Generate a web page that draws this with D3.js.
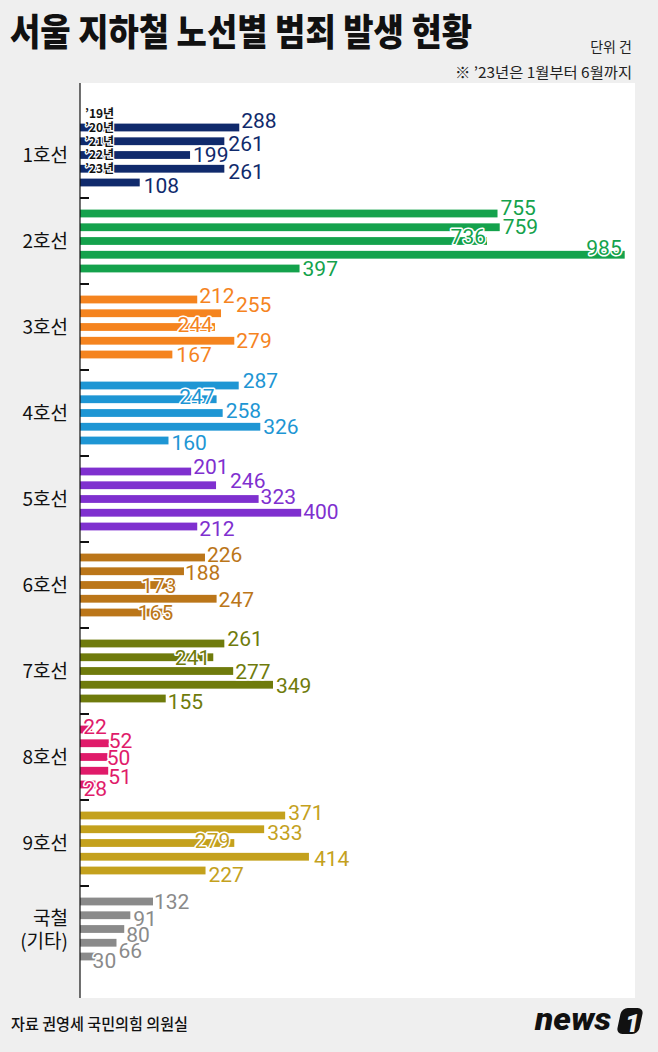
<!DOCTYPE html>
<html>
<head>
<meta charset="utf-8">
<script src="https://cdn.jsdelivr.net/npm/d3@7"></script>
<style>
  body { margin: 0; background: #efefef; }
  svg { display: block; }
</style>
</head>
<body>
<svg id="chart" width="658" height="1052"></svg>
<script>
// ---------- DATA ----------
const categories = ["1호선", "2호선", "3호선", "4호선", "5호선", "6호선", "7호선", "8호선", "9호선", "국철 (기타)"];
const years = ["’19년", "’20년", "’21년", "’22년", "’23년"];
const line1 = [288, 261, 199, 261, 108];
const line2 = [755, 759, 736, 985, 397];
const line3 = [212, 255, 244, 279, 167];
const line4 = [287, 247, 258, 326, 160];
const line5 = [201, 246, 323, 400, 212];
const line6 = [226, 188, 173, 247, 165];
const line7 = [261, 241, 277, 349, 155];
const line8 = [22, 52, 50, 51, 28];
const line9 = [371, 333, 279, 414, 227];
const korail = [132, 91, 80, 66, 30];
const seriesByLine = [line1, line2, line3, line4, line5, line6, line7, line8, line9, korail];

// ---------- STYLE / LAYOUT ----------
const lineColors = ["#102a6c", "#14a24c", "#f5841f", "#1e96d4", "#7f30cf", "#bb7619", "#6f7b0c", "#e01b6a", "#c4a11d", "#8a8a8a"];
// value-label nudges [dx, dy, insideBar] relative to bar end / bar centre
const labelNudge = [
  [[2,-7,0],[4,2,0],[3,-1,0],[4,3,0],[4,3,0]],
  [[3,-6,0],[3,-1,0],[-1,-5,1],[-3,-7,1],[3,0,0]],
  [[2,-4,0],[15,-9,0],[-2,-3,1],[2,0,0],[4,0,0]],
  [[4,-5,0],[-2,-3,1],[3,-3,0],[3,0,0],[3,2,0]],
  [[2,-5,0],[14,-5,0],[2,-3,0],[2,-1,0],[2,2,0]],
  [[2,-3,0],[1,1,0],[1,0,1],[2,1,0],[2,0,1]],
  [[3,-5,0],[-3,0,1],[2,0,0],[3,1,0],[2,3,0]],
  [[-9,-3,0],[0,-3,0],[-1,0,0],[0,6,0],[-12,4,0]],
  [[3,-3,0],[3,3,0],[-4,-3,1],[5,2,0],[3,4,0]],
  [[1,0,0],[3,3,0],[2,5,0],[2,8,0],[-4,4,0]]
];

const W = 658, H = 1052;
const svg = d3.select("#chart");
svg.append("rect").attr("width", W).attr("height", H).attr("fill", "#efefef");

// plot panel
const panel = { left: 80, right: 635, top: 83, bottom: 998 };
svg.append("rect")
  .attr("x", panel.left).attr("y", panel.top)
  .attr("width", panel.right - panel.left).attr("height", panel.bottom - panel.top)
  .attr("fill", "#ffffff");

// scales
const x = d3.scaleLinear().domain([0, 1000]).range([80, 633]);
const y = d3.scaleBand().domain(categories).range([112, 972]).padding(0);
const yi = d3.scaleBand().domain(years).range([11.6, 74.4]).paddingInner(0.433).paddingOuter(0);

// title & notes
svg.append("text")
  .attr("x", 10).attr("y", 46)
  .attr("font-family", "'Noto Sans CJK KR', sans-serif")
  .attr("font-weight", 900).attr("font-size", 37)
  .attr("textLength", 462).attr("lengthAdjust", "spacingAndGlyphs")
  .attr("fill", "#111")
  .text("서울 지하철 노선별 범죄 발생 현황");

svg.append("text")
  .attr("x", 632).attr("y", 52).attr("text-anchor", "end")
  .attr("font-family", "'Noto Sans CJK KR', sans-serif")
  .attr("font-size", 14).attr("fill", "#222")
  .text("단위 건");

svg.append("text")
  .attr("x", 632).attr("y", 78).attr("text-anchor", "end")
  .attr("font-family", "'Noto Sans CJK KR', sans-serif")
  .attr("font-size", 15).attr("fill", "#222")
  .attr("textLength", 177).attr("lengthAdjust", "spacingAndGlyphs")
  .text("※ ’23년은 1월부터 6월까지");

// bars
const groups = svg.append("g").selectAll("g.line")
  .data(categories.map((c, gi) => ({ cat: c, gi, vals: seriesByLine[gi] })))
  .join("g").attr("class", "line")
  .attr("transform", d => `translate(0,${y(d.cat)})`);

groups.selectAll("rect")
  .data(d => d.vals.map((v, i) => ({ v, i, year: years[i], gi: d.gi })))
  .join("rect")
  .attr("x", x(0))
  .attr("y", d => yi(d.year))
  .attr("width", d => x(d.v) - x(0))
  .attr("height", yi.bandwidth())
  .attr("fill", d => lineColors[d.gi]);

// axis line and group separator ticks
svg.append("line")
  .attr("x1", 80).attr("x2", 80)
  .attr("y1", panel.top).attr("y2", panel.bottom)
  .attr("stroke", "#111").attr("stroke-width", 1.2);

svg.append("g").selectAll("line")
  .data(categories.slice(1))
  .join("line")
  .attr("x1", 80).attr("x2", 89)
  .attr("y1", d => y(d)).attr("y2", d => y(d))
  .attr("stroke", "#111").attr("stroke-width", 2);

// category labels
svg.append("g").selectAll("text")
  .data(categories)
  .join("text")
  .attr("x", 68)
  .attr("text-anchor", "end")
  .attr("font-family", "'Noto Sans CJK KR', sans-serif")
  .attr("font-weight", 400)
  .attr("font-size", 19)
  .attr("fill", "#111")
  .each(function (d) {
    const parts = d.split(" ");
    const cy = y(d) + y.bandwidth() / 2;
    const t = d3.select(this);
    const lh = 23;
    parts.forEach((p, k) => {
      t.append("tspan")
        .attr("x", 68)
        .attr("y", cy + (k - (parts.length - 1) / 2) * lh + 7)
        .text(p);
    });
  });

// value labels
groups.selectAll("text.val")
  .data(d => d.vals.map((v, i) => ({ v, i, year: years[i], gi: d.gi })))
  .join("text")
  .attr("class", "val")
  .attr("font-family", "Roboto, 'Liberation Sans', sans-serif")
  .attr("font-size", 21)
  .attr("fill", d => lineColors[d.gi])
  .attr("stroke", "#fff").attr("stroke-width", 3)
  .attr("stroke-linejoin", "round").attr("paint-order", "stroke")
  .attr("text-anchor", d => labelNudge[d.gi][d.i][2] ? "end" : "start")
  .attr("x", d => x(d.v) + labelNudge[d.gi][d.i][0])
  .attr("y", d => yi(d.year) + yi.bandwidth() / 2 + labelNudge[d.gi][d.i][1] + 7.5)
  .text(d => d.v);

// year labels (first line only)
const yearG = svg.append("g").attr("transform", `translate(0,${y(categories[0])})`);
yearG.selectAll("text")
  .data(years)
  .join("text")
  .attr("x", 85)
  .attr("y", d => yi(d) + yi.bandwidth() / 2 - 14 + 4.5)
  .attr("font-family", "'Noto Sans CJK KR', sans-serif")
  .attr("font-weight", 700).attr("font-size", 12)
  .attr("fill", "#111")
  .attr("stroke", "#fff").attr("stroke-width", 2.5)
  .attr("stroke-linejoin", "round").attr("paint-order", "stroke")
  .text(d => d);

// footer
svg.append("text")
  .attr("x", 11).attr("y", 1030)
  .attr("font-family", "'Noto Sans CJK KR', sans-serif")
  .attr("font-weight", 500).attr("font-size", 16)
  .attr("textLength", 177).attr("lengthAdjust", "spacingAndGlyphs")
  .attr("fill", "#111")
  .text("자료 권영세 국민의힘 의원실");

// news1 logo
const logo = svg.append("g");
logo.append("text")
  .attr("x", 535).attr("y", 1030)
  .attr("font-family", "Roboto, sans-serif")
  .attr("font-style", "italic").attr("font-weight", 900)
  .attr("font-size", 32)
  .attr("textLength", 76).attr("lengthAdjust", "spacingAndGlyphs")
  .attr("fill", "#111")
  .text("news");
logo.append("rect")
  .attr("x", 620).attr("y", 1008).attr("width", 22).attr("height", 26)
  .attr("rx", 6).attr("ry", 6)
  .attr("transform", "skewX(-12) translate(216,0)")
  .attr("fill", "#111");
logo.append("text")
  .attr("x", 625).attr("y", 1032)
  .attr("font-family", "Roboto, sans-serif")
  .attr("font-style", "italic").attr("font-weight", 900)
  .attr("font-size", 26)
  .attr("fill", "#efefef")
  .text("1");
</script>
</body>
</html>
